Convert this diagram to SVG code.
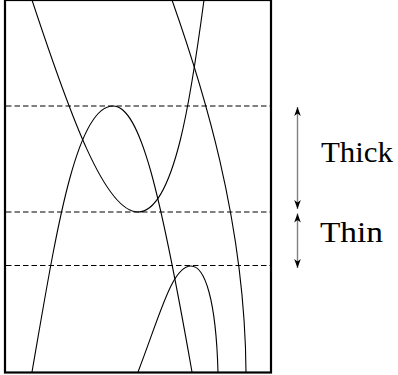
<svg xmlns="http://www.w3.org/2000/svg" width="398" height="375" viewBox="0 0 398 375">
  <style>
    .frame { fill: none; stroke: #000; stroke-width: 2.2; }
    .level { fill: none; stroke: #000; stroke-width: 1; stroke-dasharray: 5.5 3; }
    .curve { fill: none; stroke: #000; stroke-width: 1.1; }
    .dim { fill: none; stroke: #808080; stroke-width: 1.4; marker-start: url(#head); marker-end: url(#head); }
    .label { font-family: "Liberation Serif", "Times New Roman", serif; font-size: 29px; fill: #000; }
  </style>
  <defs>
    <marker id="head" viewBox="-10 -4 11 8" refX="0" refY="0" markerWidth="11" markerHeight="8" markerUnits="userSpaceOnUse" orient="auto-start-reverse">
      <path d="M0,0 L-9,-3.3 L-6.5,0 L-9,3.3 Z" fill="#000"/>
    </marker>
  </defs>
  <g id="frame">
    <rect class="frame" x="5" y="0" width="266" height="372.5"/>
  </g>
  <g id="levels">
    <line class="level" x1="6" y1="106" x2="270" y2="106"/>
    <line class="level" x1="6" y1="212" x2="270" y2="212"/>
    <line class="level" x1="6" y1="265.5" x2="270" y2="265.5"/>
  </g>
  <g id="curves">
    <path id="curveA" class="curve" d="M32,0 C70,115 105,212 138,212 C175,212 192,90 204,0"/>
    <path id="curveB" class="curve" d="M32,372 C55,240 75,106 113,106 C140,106 160,190 192,372"/>
    <path id="curveC" class="curve" d="M172,0 C202,85 245,220 246,372"/>
    <path id="curveD" class="curve" d="M138,372 C160,315 172,266 191,266 C205,266 216,300 218,372"/>
  </g>
  <g id="connectors">
    <line class="dim" x1="297.5" y1="107" x2="297.5" y2="209"/>
    <line class="dim" x1="297.5" y1="213.5" x2="297.5" y2="268"/>
  </g>
  <g id="thick">
    <text class="label" x="321" y="162" textLength="72" lengthAdjust="spacingAndGlyphs">Thick</text>
  </g>
  <g id="thin">
    <text class="label" x="320" y="242" textLength="63" lengthAdjust="spacingAndGlyphs">Thin</text>
  </g>
</svg>
